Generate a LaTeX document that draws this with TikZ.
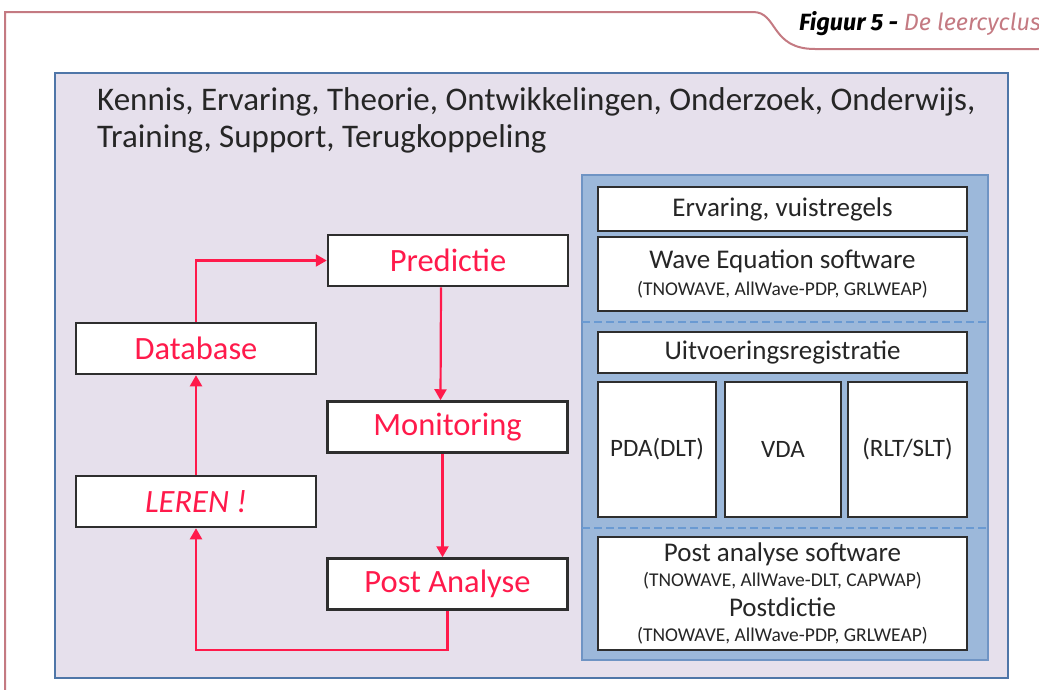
\documentclass[tikz,border=0pt]{standalone}
\usepackage{fontspec}
\setmainfont{Carlito}
\newfontfamily\titlefont{Fira Sans}
\usetikzlibrary{arrows.meta}

\definecolor{framerose}{HTML}{C47A82}
\definecolor{lavender}{HTML}{E6E0EC}
\definecolor{mainblue}{HTML}{4F76A8}
\definecolor{panelblue}{HTML}{9CB8DA}
\definecolor{paneledge}{HTML}{6F94C4}
\definecolor{dashblue}{HTML}{6A9AD2}
\definecolor{cyclered}{HTML}{FF1A4B}
\definecolor{boxgray}{HTML}{2E2E2E}
\definecolor{textgray}{HTML}{262626}

\tikzset{
  flowbox/.style={draw=boxgray, line width=2.5pt, fill=white, inner sep=0pt,
    minimum width=240pt, minimum height=51pt, text=cyclered,
    font=\fontsize{32.5}{36}\selectfont},
  panelbox/.style={draw=boxgray, line width=2.5pt, fill=white, inner sep=0pt,
    text=textgray, align=center, font=\fontsize{27}{25}\selectfont},
  flow/.style={draw=cyclered, line width=2.2pt, -{Triangle[width=12pt,length=11pt]}},
}
\newcommand{\klein}[1]{{\fontsize{19.5}{25}\selectfont #1}}

\begin{document}
\begin{tikzpicture}[x=1pt, y=-1pt]
    \useasboundingbox (0,0) rectangle (1039,689);

    % kader en titel
    \draw[framerose, line width=2pt] (5,695) -- (5,12) -- (753,12)
        .. controls (778,12) and (770,49) .. (815,49) -- (1045,49);
    \node[anchor=base west, inner sep=0pt, font=\titlefont\fontsize{23.5}{28}\selectfont\itshape] (title) at (799,30)
        {\textbf{Figuur 5 -} \textcolor{framerose}{De leercyclus}};

    % achtergrond
    \draw[mainblue, line width=2pt, fill=lavender] (55,73) rectangle (1008,678);
    \node[anchor=base west, inner sep=0pt, align=left, text=textgray, font=\fontsize{33}{37}\selectfont] (topline) at (97,147)
        {Kennis, Ervaring, Theorie, Ontwikkelingen, Onderzoek, Onderwijs,\\
         Training, Support, Terugkoppeling};

    % rechter paneel
    \draw[paneledge, line width=1.5pt, fill=panelblue] (582,175) rectangle (988,660);
    \draw[dashblue, line width=1.2pt, dash pattern=on 8pt off 4pt] (582,322) -- (988,322);
    \draw[dashblue, line width=1.2pt, dash pattern=on 8pt off 4pt] (582,528) -- (988,528);

    \node[panelbox, minimum width=369pt, minimum height=44pt] (ervaring) at (782.5,209) {Ervaring, vuistregels};
    \node[panelbox, minimum width=369pt, minimum height=74pt] (wave) at (782.5,274)
        {\raisebox{-3pt}{Wave Equation software}\\[5pt]\klein{(TNOWAVE, AllWave-PDP, GRLWEAP)}};
    \node[panelbox, minimum width=369pt, minimum height=41pt] (uitvoering) at (782.5,352.5) {Uitvoeringsregistratie};
    \node[panelbox, minimum width=118pt, minimum height=135pt, font=\fontsize{25}{25}\selectfont] (pda) at (657,449.5) {PDA(DLT)};
    \node[panelbox, minimum width=116pt, minimum height=135pt, font=\fontsize{25}{25}\selectfont] (vda) at (783,449.5) {VDA};
    \node[panelbox, minimum width=119pt, minimum height=135pt, font=\fontsize{25}{25}\selectfont] (rlt) at (907.5,449.5) {(RLT/SLT)};
    \node[panelbox, minimum width=369pt, minimum height=113pt] (postsoftware) at (782.5,593.5)
        {Post analyse software\\\klein{(TNOWAVE, AllWave-DLT, CAPWAP)}\\[5pt]
         Postdictie\\\klein{(TNOWAVE, AllWave-PDP, GRLWEAP)}};

    % leercyclus
    \node[flowbox] (predictie) at (448,260.5) {Predictie};
    \node[flowbox] (monitoring) at (447.5,427) {Monitoring};
    \node[flowbox] (postanalyse) at (447.5,584) {Post Analyse};
    \node[flowbox] (database) at (196,348.5) {Database};
    \node[flowbox] (leren) at (196,501.5) {\itshape LEREN !};

    \draw[flow] (database.north) |- (predictie.west);
    \draw[flow] ([xshift=-7pt]predictie.south) -- ([xshift=-7pt]monitoring.north);
    \draw[flow] ([xshift=-5pt]monitoring.south) -- ([xshift=-5pt]postanalyse.north);
    \draw[flow] (postanalyse.south) -- ++(0,39) -| (leren.south);
    \draw[flow] (leren.north) -- (database.south);
\end{tikzpicture}
\end{document}
